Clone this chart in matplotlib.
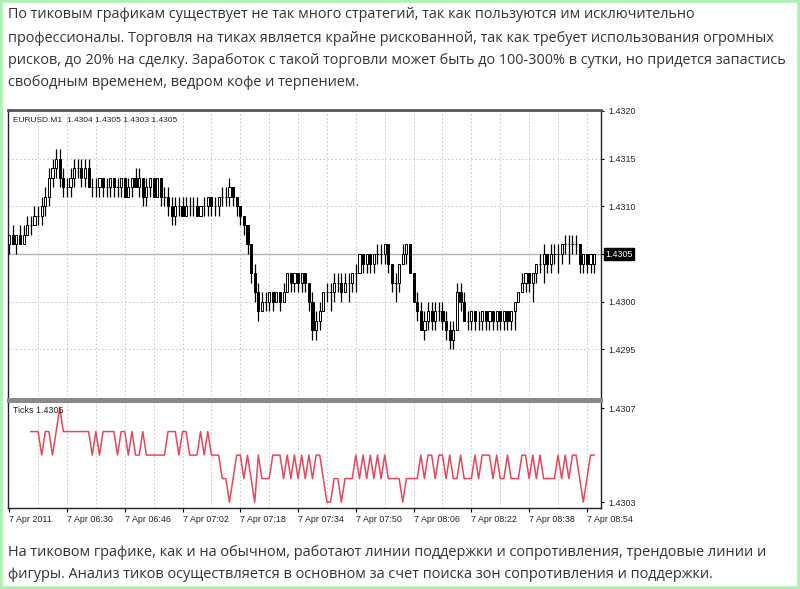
import numpy as np
import matplotlib
matplotlib.use("Agg")
import matplotlib.pyplot as plt
import matplotlib.transforms as mtransforms
from matplotlib.patches import Rectangle

# ---- page text ----
top_lines = [
    "По тиковым графикам существует не так много стратегий, так как пользуются им исключительно",
    "профессионалы. Торговля на тиках является крайне рискованной, так как требует использования огромных",
    "рисков, до 20% на сделку. Заработок с такой торговли может быть до 100-300% в сутки, но придется запастись",
    "свободным временем, ведром кофе и терпением.",
]
bottom_lines = [
    "На тиковом графике, как и на обычном, работают линии поддержки и сопротивления, трендовые линии и",
    "фигуры. Анализ тиков осуществляется в основном за счет поиска зон сопротивления и поддержки.",
]

# ---- EURUSD M1 bars, in pips above 1.4300 ----
opens = [6, 7, 6, 7, 6, 7, 8, 8, 9, 9,
         10, 11, 13, 14, 15, 13, 12, 12, 13, 14,
         14, 13, 14, 12, 12, 12, 13, 12, 12, 13,
         12, 12, 13, 11, 12, 13, 12, 13, 11, 12,
         13, 11, 13, 11, 11, 10, 9, 10, 10, 9,
         10, 10, 10, 9, 10, 10, 11, 10, 10, 11,
         11, 11, 12, 11, 10, 9, 8, 6, 3, 1,
         -1, 0, 0, 1, 0, 1, 0, 1, 3, 2,
         3, 2, 3, 2, 0, -3, -2, -1, 1, 1,
         1, 2, 2, 1, 2, 2, 3, 3, 5, 4,
         5, 4, 5, 5, 5, 6, 4, 2, 2, 4,
         5, 6, 3, 0, -1, -3, -2, -1, -2, -1,
         -1, -2, -3, -4, -3, 1, 0, -2, -2, -1,
         -2, -2, -1, -2, -1, -2, -1, -2, -1, -2,
         -1, 0, 1, 2, 3, 2, 3, 4, 4, 5,
         4, 5, 5, 5, 6, 6, 6, 6, 6, 4,
         5, 4, 4]
highs = [7, 8, 7, 8, 8, 9, 9, 10, 10, 11,
         12, 14, 15, 16, 16, 14, 13, 14, 15, 15,
         15, 15, 15, 13, 13, 13, 13, 13, 13, 13,
         13, 13, 13, 13, 13, 14, 14, 13, 13, 13,
         13, 13, 13, 12, 12, 11, 11, 11, 11, 11,
         11, 11, 11, 10, 11, 11, 11, 11, 11, 12,
         12, 13, 12, 11, 10, 9, 8, 6, 4, 2,
         1, 1, 1, 1, 1, 1, 2, 3, 3, 3,
         3, 3, 3, 2, 1, -1, 0, 1, 2, 2,
         3, 3, 3, 3, 3, 3, 4, 5, 5, 5,
         5, 5, 6, 6, 6, 6, 4, 3, 4, 6,
         6, 6, 3, 1, 0, -1, 0, 0, 0, 0,
         0, -1, -2, -2, 2, 2, 1, -1, -1, -1,
         -1, -1, -1, -1, -1, -1, -1, -1, -1, -1,
         0, 1, 3, 3, 3, 3, 4, 5, 6, 5,
         6, 6, 6, 6, 7, 7, 7, 7, 6, 5,
         5, 5, 5]
lows = [5, 6, 5, 6, 6, 7, 7, 8, 8, 8,
        9, 10, 12, 13, 12, 11, 11, 11, 12, 13,
        12, 12, 12, 11, 11, 11, 11, 11, 11, 11,
        11, 11, 11, 11, 11, 12, 11, 10, 10, 11,
        11, 11, 10, 10, 9, 8, 8, 9, 9, 9,
        9, 9, 9, 9, 9, 9, 9, 9, 9, 10,
        10, 10, 10, 9, 8, 7, 5, 2, 0, -2,
        -1, -1, -1, -1, 0, -1, 0, 1, 1, 1,
        1, 1, 1, -1, -4, -4, -3, -1, 0, -1,
        0, 1, 0, 1, 0, 1, 1, 3, 3, 3,
        3, 3, 4, 4, 4, 3, 1, 0, 1, 4,
        4, 3, 0, -2, -3, -4, -3, -3, -3, -2,
        -3, -4, -5, -5, -3, -1, -2, -3, -3, -3,
        -3, -3, -3, -3, -3, -3, -3, -3, -3, -3,
        -3, 0, 1, 1, 1, 0, 2, 3, 2, 3,
        3, 4, 3, 4, 5, 4, 5, 5, 3, 3,
        3, 3, 3]
closes = [7, 6, 7, 6, 7, 8, 8, 9, 9, 10,
          11, 13, 14, 15, 13, 12, 12, 13, 14, 14,
          13, 14, 12, 12, 12, 13, 12, 12, 13, 12,
          12, 13, 11, 12, 13, 12, 13, 11, 12, 13,
          11, 13, 11, 11, 10, 9, 10, 10, 9, 10,
          10, 10, 9, 10, 10, 11, 10, 10, 11, 11,
          11, 12, 11, 10, 9, 8, 6, 3, 1, -1,
          0, 0, 1, 0, 1, 0, 1, 3, 2, 3,
          2, 3, 2, 0, -3, -2, -1, 1, 1, 1,
          2, 2, 1, 2, 2, 3, 3, 5, 4, 5,
          4, 5, 5, 5, 6, 4, 2, 2, 4, 5,
          6, 3, 0, -1, -3, -2, -1, -2, -1, -1,
          -2, -3, -4, -3, 1, 0, -2, -2, -1, -2,
          -2, -1, -2, -1, -2, -1, -2, -1, -2, -1,
          0, 1, 2, 3, 2, 3, 4, 4, 5, 4,
          5, 5, 5, 6, 6, 6, 6, 6, 4, 5,
          4, 5, 5]

# ---- Ticks indicator, pips above 1.4300 ----
ticks = [6, 6, 6, 5, 6, 6, 5, 6, 7, 6,
         6, 6, 6, 6, 6, 6, 6, 5, 6, 5,
         6, 6, 6, 6, 5, 6, 6, 5, 6, 5,
         5, 6, 5, 5, 5, 5, 5, 5, 6, 6,
         6, 5, 6, 6, 5, 5, 5, 6, 5, 6,
         5, 5, 5, 4, 4, 3, 4, 5, 5, 4,
         5, 4, 3, 5, 4, 4, 4, 5, 5, 5,
         4, 5, 4, 5, 4, 5, 4, 5, 4, 5,
         5, 4, 3, 3, 4, 4, 3, 4, 4, 4,
         5, 4, 5, 4, 5, 4, 5, 4, 5, 4,
         4, 4, 4, 3, 4, 4, 4, 4, 5, 4,
         5, 5, 4, 5, 5, 4, 5, 4, 4, 5,
         4, 4, 4, 5, 4, 5, 5, 5, 4, 5,
         4, 4, 5, 4, 4, 4, 5, 5, 4, 5,
         4, 5, 4, 4, 4, 4, 5, 4, 5, 4,
         5, 5, 4, 3, 4, 5, 5]

time_labels = ["7 Apr 2011", "7 Apr 06:30", "7 Apr 06:46", "7 Apr 07:02", "7 Apr 07:18",
               "7 Apr 07:34", "7 Apr 07:50", "7 Apr 08:06", "7 Apr 08:22", "7 Apr 08:38",
               "7 Apr 08:54"]
price_ticks = [1.4295, 1.4300, 1.4305, 1.4310, 1.4315, 1.4320]
last_price = 1.4305

base, pip = 1.4300, 0.0001
o = base + np.array(opens) * pip
h = base + np.array(highs) * pip
l = base + np.array(lows) * pip
c = base + np.array(closes) * pip
tk = base + np.array(ticks) * pip
idx = np.arange(len(o))
tick_x = 6 + np.arange(len(tk))

chart_font = "Liberation Sans"
chart_fs = 6.4
grid_style = dict(color="#c4c4c4", linestyle=(0, (1.5, 2.5)), linewidth=0.7)

fig = plt.figure(figsize=(8, 5.89), dpi=100)
W, H = 800, 589

for y, line in zip([15, 38, 61, 83], top_lines):
    fig.text(8 / W, 1 - y / H, line, va="center", ha="left", fontsize=10.35,
             family="Open Sans", color="#333333")
for y, line in zip([552, 574], bottom_lines):
    fig.text(8 / W, 1 - y / H, line, va="center", ha="left", fontsize=10.45,
             family="Open Sans", color="#333333")

# main price panel
ax = fig.add_axes([8 / W, 1 - 399 / H, 593 / W, 289 / H])
ax.vlines(idx, l, h, color="black", linewidth=0.9, zorder=3)
up = c >= o
ax.bar(idx, np.abs(c - o), bottom=np.minimum(o, c), width=0.6,
       color=np.where(up, "white", "black"), edgecolor="black", linewidth=0.7, zorder=4)
ax.axhline(last_price, color="#b4b4b4", linewidth=1, zorder=2)
ax.set_xlim(-0.33, 163.9)
ax.set_ylim(1.42898, 1.43201)
ax.set_xticks(np.arange(8, 163, 8))
ax.set_xticklabels([])
ax.tick_params(axis="x", length=0)
ax.yaxis.tick_right()
ax.set_yticks(price_ticks)
ax.set_yticklabels(["" if abs(p - last_price) < 1e-9 else f"{p:.4f}" for p in price_ticks],
                   family=chart_font, fontsize=chart_fs, color="#222222")
ax.tick_params(axis="y", length=2.5, width=0.8, pad=2.5)
ax.grid(True, **grid_style)
ax.set_axisbelow(True)
for s in ["left", "right"]:
    ax.spines[s].set_color("#222222")
    ax.spines[s].set_linewidth(1)
ax.spines["top"].set_color("#555555")
ax.spines["top"].set_linewidth(2)
ax.spines["bottom"].set_color("#8a8a8a")
ax.spines["bottom"].set_linewidth(2.2)
ax.text(0.008, 0.975, "EURUSD.M1  1.4304 1.4305 1.4303 1.4305", transform=ax.transAxes,
        ha="left", va="top", fontsize=6, family=chart_font, color="#222222")
trans = mtransforms.blended_transform_factory(ax.transAxes, ax.transData)
ax.text(1.007, last_price, "1.4305", transform=trans, ha="left", va="center",
        fontsize=chart_fs, family=chart_font, color="white",
        bbox=dict(boxstyle="square,pad=0.15", facecolor="black", edgecolor="black"))

# ticks panel
ax2 = fig.add_axes([8 / W, 1 - 508 / H, 593 / W, 107 / H], sharex=ax)
ax2.plot(tick_x, tk, color="#e5485a", linewidth=1.1, zorder=3)
ax2.set_ylim(1.430275, 1.43073)
ax2.yaxis.tick_right()
ax2.set_yticks([1.4303, 1.4307])
ax2.set_yticklabels(["1.4303", "1.4307"], family=chart_font, fontsize=chart_fs, color="#222222")
ax2.tick_params(axis="y", length=2.5, width=0.8, pad=2.5)
ax2.xaxis.grid(True, **grid_style)
ax2.set_axisbelow(True)
ax2.text(0.008, 0.95, "Ticks 1.4305", transform=ax2.transAxes, ha="left", va="top",
         fontsize=chart_fs, family=chart_font, color="#222222")
for s in ["left", "right", "bottom"]:
    ax2.spines[s].set_color("#222222")
    ax2.spines[s].set_linewidth(1)
ax2.spines["top"].set_color("#8a8a8a")
ax2.spines["top"].set_linewidth(2.2)

# bottom time axis (labels start at their tick, as in the terminal)
sec = ax2.secondary_xaxis("bottom")
sec.set_xticks(np.arange(0, 161, 16))
sec.set_xticklabels(time_labels, family=chart_font, fontsize=chart_fs, ha="left", color="#222222")
sec.tick_params(axis="x", length=3, width=0.8, pad=2)
sec.spines["bottom"].set_visible(False)
ax2.tick_params(axis="x", length=0, labelbottom=False)
plt.setp(ax.get_xticklabels(), visible=False)

# light green page frame of the screenshot
fig.patches.append(Rectangle((0, 0), 1, 1, transform=fig.transFigure, fill=False,
                             edgecolor="#aef0ae", linewidth=4))

fig.savefig("out.png", dpi=100, facecolor="white")
